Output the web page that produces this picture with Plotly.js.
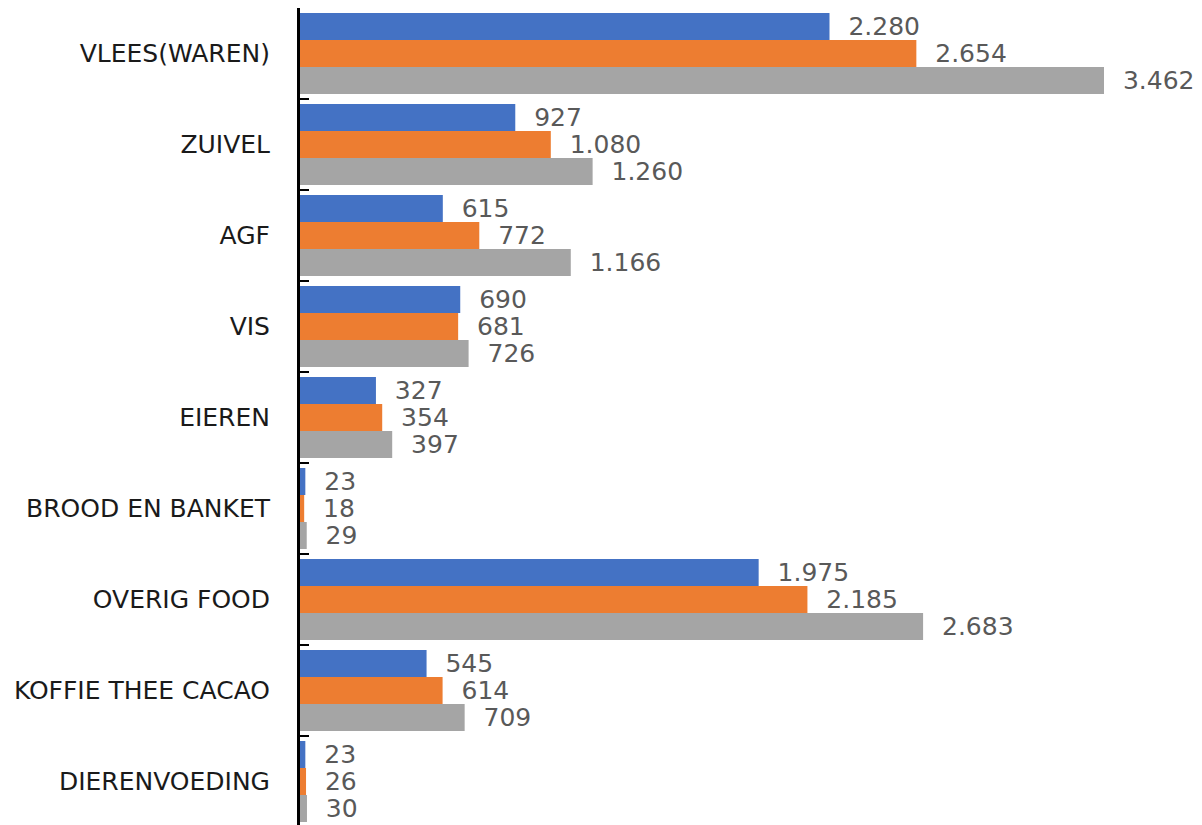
<!DOCTYPE html>
<html>
<head>
<meta charset="utf-8">
<script src="https://cdn.plot.ly/plotly-3.0.1.min.js"></script>
<style>html,body{margin:0;padding:0;background:#fff;}#chart{width:1202px;height:825px;}</style>
</head>
<body>
<div id="chart"></div>
<script>
const categories = ["VLEES(WAREN)", "ZUIVEL", "AGF", "VIS", "EIEREN", "BROOD EN BANKET", "OVERIG FOOD", "KOFFIE THEE CACAO", "DIERENVOEDING"];
const series1 = [2280, 927, 615, 690, 327, 23, 1975, 545, 23];
const series2 = [2654, 1080, 772, 681, 354, 18, 2185, 614, 26];
const series3 = [3462, 1260, 1166, 726, 397, 29, 2683, 709, 30];
const seriesNames = ["Reeks 1", "Reeks 2", "Reeks 3"];
const colors = ["#4472C4", "#ED7D31", "#A5A5A5"];

const FONT = "DejaVu Sans";
const pad = "\u00a0\u00a0";
const traces = [series1, series2, series3].map((vals, i) => ({
  type: "bar",
  orientation: "h",
  name: seriesNames[i],
  y: categories,
  x: vals,
  marker: {color: colors[i]},
  texttemplate: pad + "%{x:,.0f}",
  textposition: "outside",
  cliponaxis: false,
  constraintext: "none",
  textfont: {family: FONT, size: 25, color: "#595959"},
  hoverinfo: "x+y+name"
}));

const layout = {
  width: 1202,
  height: 825,
  margin: {l: 300, r: 0, t: 8, b: 0},
  paper_bgcolor: "#fff",
  plot_bgcolor: "#fff",
  separators: ",.",
  showlegend: false,
  barmode: "group",
  bargap: 0.11,
  bargroupgap: 0,
  font: {family: FONT},
  xaxis: {
    range: [0, 3884],
    visible: false,
    showgrid: false,
    zeroline: false
  },
  yaxis: {
    type: "category",
    range: [8.478, -0.5],
    showline: true,
    linecolor: "#000",
    linewidth: 3,
    ticks: "inside",
    tickson: "boundaries",
    ticklen: 9,
    tickwidth: 2,
    tickcolor: "#000",
    ticklabelstandoff: 22,
    showgrid: false,
    zeroline: false,
    tickfont: {family: FONT, size: 25, color: "#1a1a1a"}
  }
};

Plotly.newPlot("chart", traces, layout, {displayModeBar: false, staticPlot: true});
</script>
</body>
</html>
